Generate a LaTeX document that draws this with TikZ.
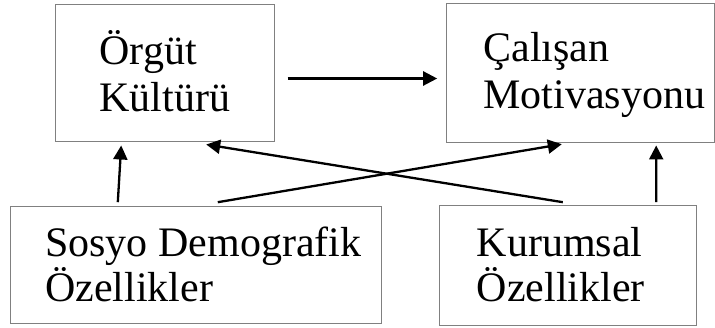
\documentclass[tikz,border=0pt]{standalone}
\usepackage{fontspec}
\setmainfont{Liberation Serif}
\usetikzlibrary{arrows.meta}
\begin{document}
\begin{tikzpicture}[x=1pt,y=1pt,
  box/.style={draw=black!50, line width=1pt, inner sep=0pt, minimum width=#1},
  txt/.style={inner sep=0pt, anchor=base west, font=\fontsize{42pt}{46pt}\selectfont},
  arr/.style={line width=2.3pt, -{Triangle[length=14pt,width=14pt]}}]
\useasboundingbox (0,0) rectangle (715,328);
\node[box=219pt, minimum height=137.3pt] (b1) at (164.5,254.65) {};
\node[box=267.3pt, minimum height=139.4pt] (b2) at (580.35,255) {};
\node[box=371pt, minimum height=116.6pt] (b3) at (196.2,63) {};
\node[box=257.4pt, minimum height=120pt] (b4) at (568,62.3) {};
\node[txt] (t1a) at (99.3,263) {Örgüt};
\node[txt] (t1b) at (99.3,216.3) {Kültürü};
\node[txt] (t2a) at (483.3,266.3) {Çalışan};
\node[txt] (t2b) at (483.3,219.7) {Motivasyonu};
\node[txt] (t3a) at (45,71.3) {Sosyo Demografik};
\node[txt] (t3b) at (45,26.3) {Özellikler};
\node[txt] (t4a) at (476.7,71.3) {Kurumsal};
\node[txt] (t4b) at (476.7,26.3) {Özellikler};
\draw[arr] ([xshift=13pt,yshift=64pt]b1.south east) -- ([xshift=-9pt,yshift=64.7pt]b2.south west);
\draw[arr] ([xshift=107.6pt,yshift=4pt]b3.north west) -- ([xshift=66.7pt,yshift=-3pt]b1.south west);
\draw[arr] ([xshift=207.6pt,yshift=4pt]b3.north west) -- ([xshift=115.6pt,yshift=-1pt]b2.south west);
\draw[arr] ([xshift=124pt,yshift=3pt]b4.north west) -- ([xshift=151.7pt,yshift=-2pt]b1.south west);
\draw[arr] ([xshift=217.4pt,yshift=3pt]b4.north west) -- ([xshift=210pt,yshift=-2.3pt]b2.south west);
\end{tikzpicture}
\end{document}
